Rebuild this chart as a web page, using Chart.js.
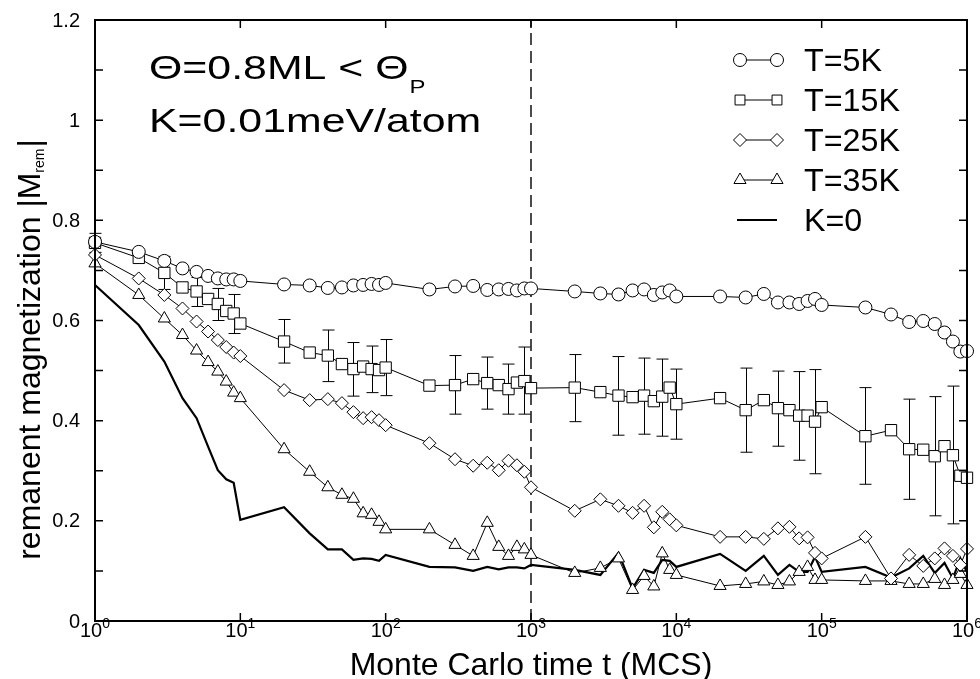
<!DOCTYPE html>
<html>
<head>
<meta charset="utf-8">
<script src="https://cdn.jsdelivr.net/npm/chart.js@4.4.0/dist/chart.umd.min.js"></script>
<style>
  html, body { margin: 0; padding: 0; background: #fff; }
  canvas { display: block; }
</style>
</head>
<body>
<canvas id="chartMag" width="980" height="679"></canvas>
<script>
// MC time steps (MCS), shared by all curves
const times = [1, 2, 3, 4, 5, 6, 7, 8, 9, 10,
  20, 30, 40, 50, 60, 70, 80, 90, 100,
  200, 300, 400, 500, 600, 700, 800, 900, 1000,
  2000, 3000, 4000, 5000, 6000, 7000, 8000, 9000, 10000,
  20000, 30000, 40000, 50000, 60000, 70000, 80000, 90000, 100000,
  200000, 300000, 400000, 500000, 600000, 700000, 800000, 900000, 1000000];

const magT5 = [0.757, 0.737, 0.719, 0.704, 0.697, 0.689, 0.684, 0.682, 0.682, 0.679,
  0.672, 0.670, 0.665, 0.666, 0.670, 0.671, 0.673, 0.671, 0.675,
  0.662, 0.668, 0.669, 0.661, 0.662, 0.663, 0.660, 0.664, 0.664,
  0.658, 0.654, 0.652, 0.660, 0.662, 0.651, 0.656, 0.660, 0.648,
  0.648, 0.646, 0.653, 0.636, 0.636, 0.633, 0.639, 0.643, 0.631,
  0.626, 0.612, 0.597, 0.599, 0.593, 0.576, 0.558, 0.538, 0.539];

const magT15 = [0.755, 0.725, 0.695, 0.666, 0.658, 0.643, 0.633, 0.619, 0.614, 0.594,
  0.558, 0.536, 0.530, 0.513, 0.503, 0.508, 0.503, 0.501, 0.506,
  0.470, 0.471, 0.483, 0.475, 0.471, 0.463, 0.476, 0.479, 0.465,
  0.466, 0.457, 0.450, 0.447, 0.450, 0.439, 0.448, 0.466, 0.433,
  0.445, 0.421, 0.441, 0.425, 0.421, 0.410, 0.410, 0.398, 0.427,
  0.369, 0.381, 0.343, 0.342, 0.329, 0.349, 0.331, 0.290, 0.286];

const magT25 = [0.731, 0.684, 0.651, 0.624, 0.598, 0.578, 0.561, 0.547, 0.536, 0.529,
  0.461, 0.441, 0.443, 0.435, 0.417, 0.405, 0.407, 0.401, 0.391,
  0.355, 0.323, 0.310, 0.316, 0.301, 0.320, 0.311, 0.298, 0.267,
  0.220, 0.243, 0.230, 0.216, 0.230, 0.187, 0.218, 0.203, 0.191,
  0.168, 0.168, 0.164, 0.185, 0.188, 0.165, 0.167, 0.136, 0.125,
  0.168, 0.085, 0.132, 0.110, 0.125, 0.145, 0.130, 0.112, 0.144];

const magT35 = [0.714, 0.651, 0.604, 0.571, 0.540, 0.517, 0.498, 0.478, 0.456, 0.445,
  0.343, 0.298, 0.267, 0.252, 0.244, 0.215, 0.212, 0.198, 0.183,
  0.183, 0.152, 0.130, 0.196, 0.148, 0.130, 0.148, 0.143, 0.132,
  0.096, 0.106, 0.125, 0.062, 0.090, 0.069, 0.135, 0.102, 0.092,
  0.070, 0.074, 0.079, 0.072, 0.079, 0.098, 0.108, 0.082, 0.082,
  0.080, 0.080, 0.074, 0.074, 0.084, 0.072, 0.082, 0.094, 0.072];

const magK0 = [0.671, 0.591, 0.518, 0.445, 0.405, 0.348, 0.301, 0.283, 0.276, 0.202,
  0.227, 0.175, 0.143, 0.143, 0.122, 0.125, 0.124, 0.120, 0.132,
  0.108, 0.107, 0.100, 0.108, 0.103, 0.107, 0.107, 0.105, 0.112,
  0.102, 0.092, 0.136, 0.065, 0.102, 0.096, 0.122, 0.120, 0.108,
  0.134, 0.100, 0.130, 0.092, 0.112, 0.098, 0.098, 0.128, 0.098,
  0.108, 0.087, 0.105, 0.130, 0.096, 0.116, 0.085, 0.125, 0.098];

// error bars of the T=15K curve
const errTimes = [1, 3, 5, 7, 9, 20, 40, 60, 80, 100, 300, 500, 700, 900,
  2000, 4000, 6000, 8000, 10000, 30000, 50000, 70000, 90000,
  200000, 400000, 600000, 800000];
const errLow = [0.736, 0.662, 0.628, 0.600, 0.574, 0.515, 0.478, 0.449, 0.456, 0.450,
  0.413, 0.423, 0.413, 0.413, 0.398, 0.371, 0.373, 0.369, 0.363,
  0.337, 0.349, 0.321, 0.294, 0.273, 0.243, 0.210, 0.194];
const errHigh = [0.774, 0.728, 0.686, 0.664, 0.652, 0.602, 0.581, 0.556, 0.549, 0.562,
  0.530, 0.527, 0.513, 0.547, 0.532, 0.528, 0.525, 0.523, 0.503,
  0.505, 0.499, 0.498, 0.502, 0.466, 0.443, 0.448, 0.469];

const markerTime = 1000;

const xTickValues = [1, 10, 100, 1000, 10000, 100000, 1000000];
const xTickExponents = ["0", "1", "2", "3", "4", "5", "6"];
const yTickValues = [0, 0.1, 0.2, 0.3, 0.4, 0.5, 0.6, 0.7, 0.8, 0.9, 1.0, 1.1, 1.2];
const yTickLabels = ["0", "", "0.2", "", "0.4", "", "0.6", "", "0.8", "", "1", "", "1.2"];

const FONT = "'Liberation Sans', Arial, Helvetica, sans-serif";

const toPoints = (ys) => times.map((t, i) => ({ x: t, y: ys[i] }));

const markerSeries = (label, ys, style, radius, legendRadius) => ({
    label: label,
    data: toPoints(ys),
    showLine: true,
    borderColor: "#000",
    borderWidth: 1,
    pointStyle: style,
    pointRadius: radius,
    pointHoverRadius: radius,
    legendRadius: legendRadius,
    pointBackgroundColor: "#fff",
    pointBorderColor: "#000",
    pointBorderWidth: 1,
    clip: false,
});

// text helper, sx stretches horizontally
function drawText(ctx, text, x, y, size, opts = {}) {
    ctx.save();
    ctx.font = `${size}px ${FONT}`;
    ctx.fillStyle = "#000";
    ctx.textAlign = opts.align || "left";
    ctx.textBaseline = opts.baseline || "alphabetic";
    ctx.translate(x, y);
    if (opts.rotate) ctx.rotate(opts.rotate);
    ctx.scale(opts.sx || 1, 1);
    ctx.fillText(text, 0, 0);
    ctx.restore();
}

function textWidth(ctx, text, size, sx = 1) {
    ctx.save();
    ctx.font = `${size}px ${FONT}`;
    const w = ctx.measureText(text).width * sx;
    ctx.restore();
    return w;
}

const figurePlugin = {
    id: "figure",
    beforeDatasetsDraw(chart) {
        const ctx = chart.ctx;
        const xs = chart.scales.x, ys = chart.scales.y;
        ctx.save();
        ctx.strokeStyle = "#000";
        ctx.lineWidth = 1;
        errTimes.forEach((t, i) => {
            const px = Math.round(xs.getPixelForValue(t)) + 0.5;
            const lo = ys.getPixelForValue(errLow[i]);
            const hi = ys.getPixelForValue(errHigh[i]);
            ctx.beginPath();
            ctx.moveTo(px, lo); ctx.lineTo(px, hi);
            ctx.moveTo(px - 6, lo); ctx.lineTo(px + 6, lo);
            ctx.moveTo(px - 6, hi); ctx.lineTo(px + 6, hi);
            ctx.stroke();
        });
        ctx.restore();
    },
    afterDraw(chart) {
        const ctx = chart.ctx;
        const area = chart.chartArea;
        const xs = chart.scales.x, ys = chart.scales.y;

        // frame + inward ticks
        ctx.save();
        ctx.strokeStyle = "#000";
        ctx.lineWidth = 2;
        ctx.strokeRect(area.left, area.top, area.right - area.left, area.bottom - area.top);
        ctx.lineWidth = 1.5;
        ctx.beginPath();
        yTickValues.forEach(v => {
            const py = ys.getPixelForValue(v);
            ctx.moveTo(area.left, py); ctx.lineTo(area.left + 8, py);
            ctx.moveTo(area.right, py); ctx.lineTo(area.right - 8, py);
        });
        xTickValues.forEach(v => {
            const px = xs.getPixelForValue(v);
            ctx.moveTo(px, area.bottom); ctx.lineTo(px, area.bottom - 8);
            ctx.moveTo(px, area.top); ctx.lineTo(px, area.top + 8);
        });
        ctx.stroke();
        ctx.restore();

        // y tick labels
        yTickValues.forEach((v, i) => {
            if (!yTickLabels[i]) return;
            drawText(ctx, yTickLabels[i], area.left - 15, ys.getPixelForValue(v) + 1, 20,
                { align: "right", baseline: "middle" });
        });

        // x tick labels 10^n
        xTickValues.forEach((v, i) => {
            const px = xs.getPixelForValue(v);
            const wBase = textWidth(ctx, "10", 20);
            const wExp = textWidth(ctx, xTickExponents[i], 14);
            const start = px - (wBase + wExp) / 2;
            drawText(ctx, "10", start, area.bottom + 16, 20);
            drawText(ctx, xTickExponents[i], start + wBase, area.bottom + 7, 14);
        });

        // axis titles
        drawText(ctx, "Monte Carlo time t (MCS)", (area.left + area.right) / 2, 675, 32, { align: "center" });

        const yMain = "remanent magnetization |M";
        const w1 = textWidth(ctx, yMain, 32);
        const w2 = textWidth(ctx, "rem", 14);
        const w3 = textWidth(ctx, "|", 32);
        const yStart = 350 + (w1 + w2 + w3) / 2;
        const rot = -Math.PI / 2;
        drawText(ctx, yMain, 40, yStart, 32, { rotate: rot });
        drawText(ctx, "rem", 44, yStart - w1, 14, { rotate: rot });
        drawText(ctx, "|", 40, yStart - w1 - w2 - 1, 32, { rotate: rot });

        // annotation text
        const line1 = "\u0398=0.8ML < \u0398";
        drawText(ctx, line1, 149, 79, 34, { sx: 1.26 });
        drawText(ctx, "P", 150 + textWidth(ctx, line1, 34, 1.26), 93, 19, { sx: 1.26 });
        drawText(ctx, "K=0.01meV/atom", 149, 132, 34, { sx: 1.26 });

        // legend
        const rows = chart.data.datasets.filter(d => d.label);
        rows.forEach((d, i) => {
            const cy = 60 + i * 40;
            ctx.save();
            ctx.strokeStyle = "#000";
            ctx.lineWidth = d.borderWidth;
            ctx.beginPath();
            if (d.pointRadius > 0) {
                ctx.moveTo(740, cy); ctx.lineTo(777, cy);
            } else {
                ctx.moveTo(737, cy); ctx.lineTo(777, cy);
            }
            ctx.stroke();
            if (d.pointRadius > 0) {
                ctx.fillStyle = "#fff";
                ctx.lineWidth = 1;
                const opts = { pointStyle: d.pointStyle, radius: d.legendRadius, rotation: 0, borderWidth: 1 };
                Chart.helpers.drawPoint(ctx, opts, 740, cy);
                Chart.helpers.drawPoint(ctx, opts, 777, cy);
            }
            ctx.restore();
            drawText(ctx, d.label, 804, cy + 11, 31, { sx: 1.04 });
        });
    }
};

const chartMag = new Chart(document.getElementById("chartMag"), {
    type: "scatter",
    data: {
        datasets: [
            markerSeries("T=5K", magT5, "circle", 6.5, 6.5),
            markerSeries("T=15K", magT15, "rect", 8, 7),
            markerSeries("T=25K", magT25, "rectRot", 6.5, 6.5),
            markerSeries("T=35K", magT35, "triangle", 7, 7),
            {
                label: "K=0",
                data: toPoints(magK0),
                showLine: true,
                borderColor: "#000",
                borderWidth: 2.2,
                pointRadius: 0,
                clip: false,
            },
            {
                data: [{ x: markerTime, y: 0 }, { x: markerTime, y: 1.2 }],
                showLine: true,
                borderColor: "#000",
                borderWidth: 1.4,
                borderDash: [12, 6],
                pointRadius: 0,
            },
        ]
    },
    options: {
        responsive: false,
        animation: false,
        layout: { padding: { top: 20, right: 13, left: 0, bottom: 0 } },
        plugins: {
            legend: { display: false },
            tooltip: { enabled: false },
        },
        scales: {
            x: {
                type: "logarithmic",
                min: 1,
                max: 1000000,
                grid: { display: false },
                border: { display: false },
                ticks: { display: false },
                afterFit: (scale) => { scale.height = 58; },
            },
            y: {
                type: "linear",
                min: 0,
                max: 1.2,
                grid: { display: false },
                border: { display: false },
                ticks: { display: false },
                afterFit: (scale) => { scale.width = 95; },
            }
        }
    },
    plugins: [figurePlugin]
});
</script>
</body>
</html>
